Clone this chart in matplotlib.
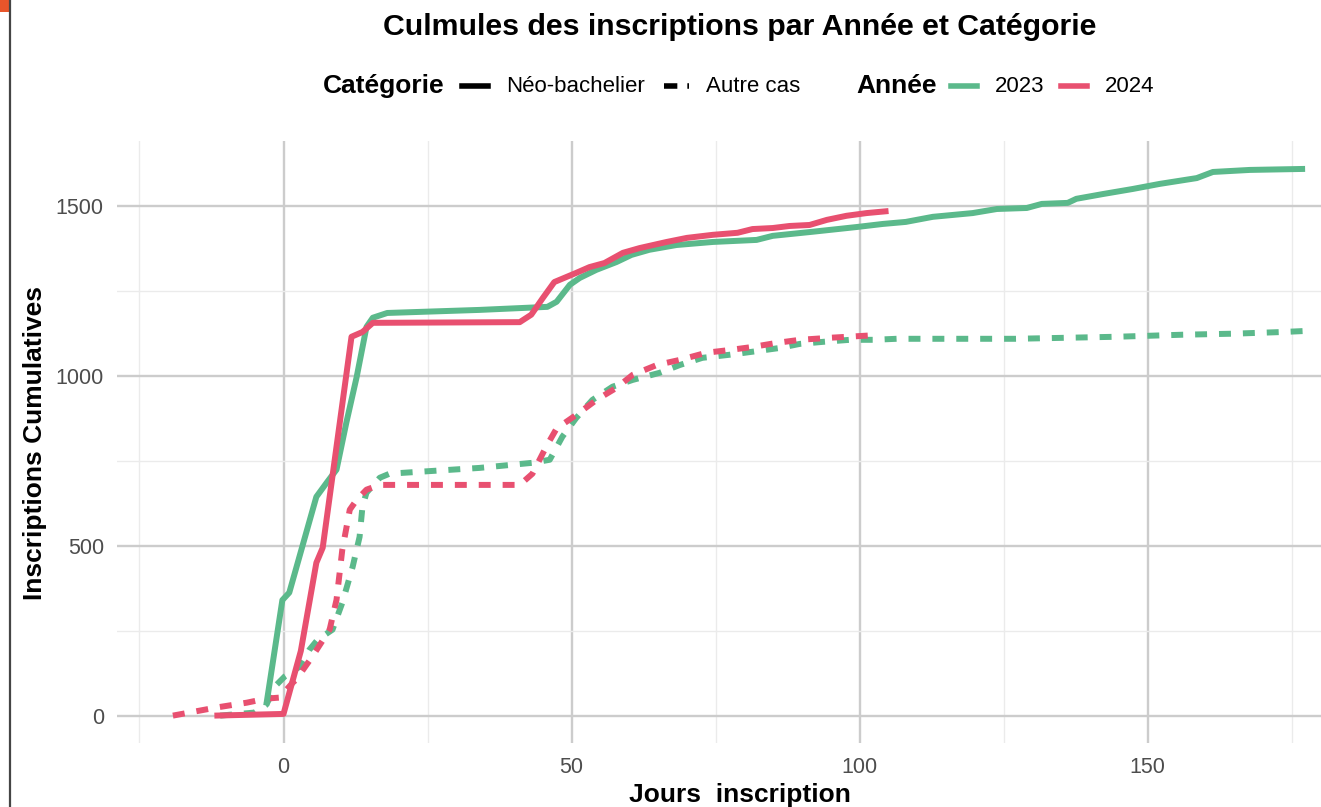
import matplotlib
matplotlib.use("Agg")
import matplotlib.pyplot as plt
from matplotlib.lines import Line2D
from matplotlib.patches import Rectangle
from matplotlib.ticker import MultipleLocator

# jours relatifs et inscriptions cumulées
jours_2023_neo = [-3, -0.2, 1, 5.7, 7.6, 9.2, 10.9, 12.7, 14.4, 15.5, 18, 34, 45.8, 47.4, 49.7, 51.4,
                  54.3, 57.8, 60.4, 63.5, 68.2, 74.5, 82.1, 84.9, 91.8, 99.5, 104, 108, 112.7, 119.6,
                  123.8, 129, 131.6, 136.1, 137.6, 142.2, 147.4, 152.1, 158.5, 161.3, 167.7, 177.3]
cumul_2023_neo = [30, 340, 362, 644, 688, 724, 862, 997, 1144, 1171, 1185, 1194, 1203, 1218, 1268, 1288,
                  1312, 1335, 1356, 1371, 1385, 1394, 1400, 1412, 1424, 1438, 1447, 1453, 1468, 1479,
                  1491, 1494, 1506, 1509, 1521, 1535, 1550, 1565, 1582, 1600, 1606, 1609]

jours_2024_neo = [-12, 0, 3, 5.7, 6.8, 11.8, 13.7, 15.5, 41, 43, 45, 47, 50.8, 53.1, 55.7, 58.9, 61.8,
                  66.5, 70, 74.5, 78.8, 81.4, 84.9, 87.8, 91.3, 94.3, 97.7, 101.2, 105]
cumul_2024_neo = [0, 5, 190, 450, 494, 1115, 1129, 1156, 1158, 1180, 1229, 1276, 1303, 1320, 1332, 1362, 1376,
                  1394, 1406, 1415, 1421, 1432, 1435, 1441, 1444, 1459, 1471, 1479, 1485]

jours_2023_autre = [-11, -5, -3, -1.2, 0.2, 2.8, 4.5, 5.9, 8.5, 10.2, 12, 13.2, 13.7, 14.4, 16.7, 18.4,
                    34, 43.2, 46.2, 48.4, 50.8, 53.6, 57.1, 60.6, 65.3, 68.8, 72.7, 77.4, 81.4, 86.1,
                    89.6, 93.6, 98.3, 102.3, 106.4, 127, 144.6, 156, 164.8, 173.4, 177.3]
cumul_2023_autre = [0, 9, 32, 91, 115, 144, 194, 223, 253, 332, 438, 526, 615, 656, 700, 712,
                    729, 744, 753, 821, 876, 929, 968, 988, 1009, 1032, 1053, 1062, 1071, 1082,
                    1094, 1100, 1106, 1106, 1109, 1109, 1115, 1121, 1124, 1129, 1132]

jours_2024_autre = [-19.2, -11.6, -6.4, -3, -0.7, 1.6, 2.2, 5, 8, 9.2, 10.2, 11.5, 12.7, 14.4, 16.7, 41,
                    43.2, 45.7, 47.4, 50.8, 54.3, 57.8, 60.6, 64.8, 68.8, 73.4, 77.4, 81.4, 85.6, 89.6,
                    94.8, 103]
cumul_2024_autre = [0, 24, 38, 50, 53, 97, 106, 174, 253, 341, 488, 606, 635, 665, 679, 679,
                    712, 795, 845, 885, 929, 965, 1003, 1032, 1047, 1068, 1076, 1085, 1097, 1106,
                    1112, 1120]

annees = ["2023", "2024"]
categories = ["Néo-bachelier", "Autre cas"]
couleurs = {"2023": "#5BB98B", "2024": "#E85070"}

W, H = 1321, 807
plt.rcParams["font.family"] = ["Liberation Sans", "DejaVu Sans"]

fig = plt.figure(figsize=(W / 100, H / 100), dpi=100)


def fx(px):
    return px / W


def fy(py):
    return 1 - py / H


# panneau : à droite il dépasse du cadre (capture rognée)
ax = fig.add_axes([fx(117), fy(743), fx(1361) - fx(117), fy(140.5) - fy(743)])
ax.set_xlim(-28.9, 187)
ax.set_ylim(-80.6, 1692.6)

dash = (2.0, 2.0)
lw = 4.3
ax.plot(jours_2023_autre, cumul_2023_autre, color=couleurs["2023"], lw=lw, dashes=dash, zorder=3)
ax.plot(jours_2024_autre, cumul_2024_autre, color=couleurs["2024"], lw=lw, dashes=dash, zorder=3)
ax.plot(jours_2023_neo, cumul_2023_neo, color=couleurs["2023"], lw=lw, zorder=3,
        solid_joinstyle="round", solid_capstyle="butt")
ax.plot(jours_2024_neo, cumul_2024_neo, color=couleurs["2024"], lw=lw, zorder=3,
        solid_joinstyle="round", solid_capstyle="butt")

ax.xaxis.set_major_locator(MultipleLocator(50))
ax.xaxis.set_minor_locator(MultipleLocator(25))
ax.yaxis.set_major_locator(MultipleLocator(500))
ax.yaxis.set_minor_locator(MultipleLocator(250))
ax.grid(which="major", color="#CCCCCC", lw=1.7, zorder=0)
ax.grid(which="minor", color="#EBEBEB", lw=1.0, zorder=0)
ax.set_axisbelow(True)
for s in ax.spines.values():
    s.set_visible(False)
ax.tick_params(which="both", length=0)
ax.tick_params(axis="y", pad=9.5, labelsize=15.5, labelcolor="#4D4D4D")
ax.tick_params(axis="x", pad=10, labelsize=15.5, labelcolor="#4D4D4D")

# titres
fig.text(fx(740), fy(27), "Culmules des inscriptions par Année et Catégorie",
         ha="center", va="center", fontsize=21.8, fontweight="bold")
fig.text(fx(740), fy(795), "Jours  inscription", ha="center", va="center",
         fontsize=19, fontweight="bold")
fig.text(fx(35), fy(443), "Inscriptions Cumulatives", ha="center", va="center",
         rotation=90, fontsize=19, fontweight="bold")

# légende
ly = fy(86)
fig.text(fx(323), ly, "Catégorie", ha="left", va="center", fontsize=19, fontweight="bold")
fig.add_artist(Line2D([fx(462), fx(488)], [ly, ly], color="black", lw=4))
fig.text(fx(506), ly, categories[0], ha="left", va="center", fontsize=16)
fig.add_artist(Line2D([fx(664), fx(689)], [ly, ly], color="black", lw=4, dashes=(2.4, 1.8)))
fig.text(fx(706), ly, categories[1], ha="left", va="center", fontsize=16)
fig.text(fx(856), ly, "Année", ha="left", va="center", fontsize=19, fontweight="bold")
fig.add_artist(Line2D([fx(951), fx(977)], [ly, ly], color=couleurs[annees[0]], lw=4))
fig.text(fx(995), ly, annees[0], ha="left", va="center", fontsize=16)
fig.add_artist(Line2D([fx(1061), fx(1087)], [ly, ly], color=couleurs[annees[1]], lw=4))
fig.text(fx(1105), ly, annees[1], ha="left", va="center", fontsize=16)

# bord de capture à gauche
fig.add_artist(Rectangle((0, fy(12)), fx(9), 1 - fy(12), color="#E8552A", lw=0))
fig.add_artist(Line2D([fx(10), fx(10)], [0, 1], color="#454545", lw=1.6))

fig.savefig("out.png", dpi=100)
